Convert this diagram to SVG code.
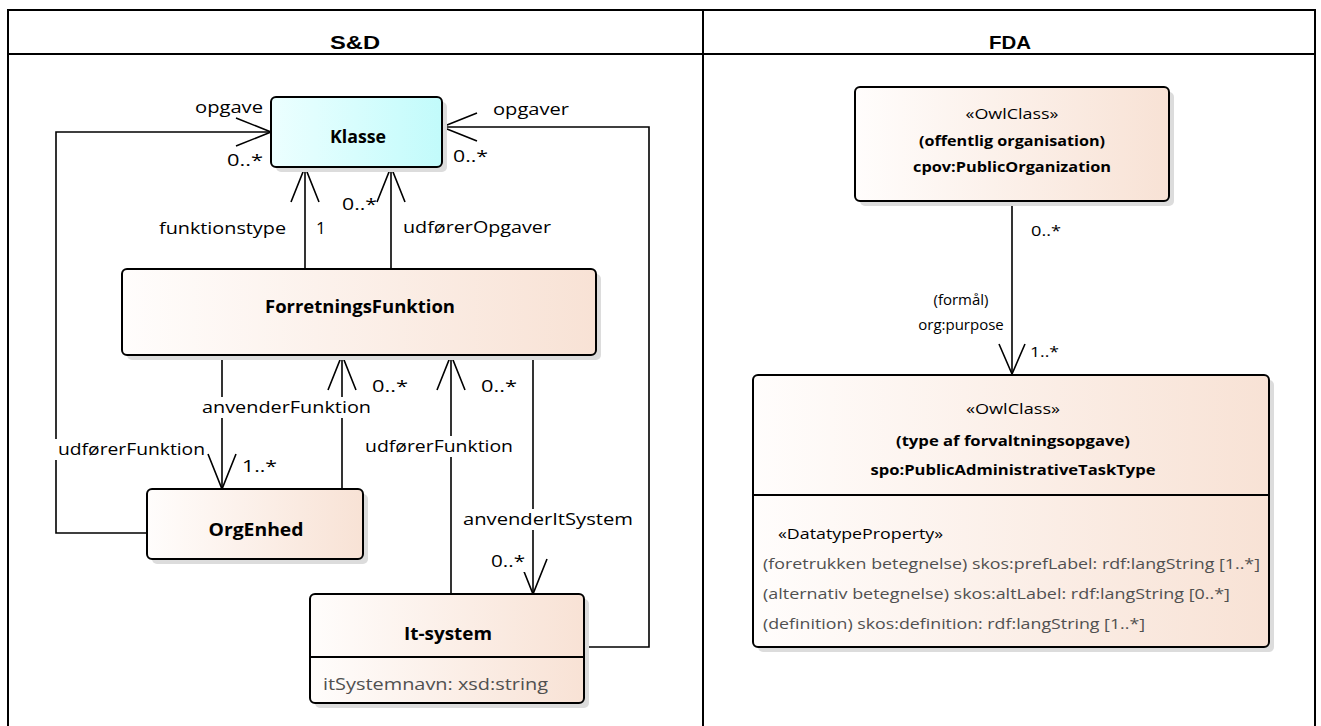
<svg xmlns="http://www.w3.org/2000/svg" width="1321" height="726" viewBox="0 0 1321 726">
<style>
.lbl{font-family:"Open Sans","Liberation Sans",sans-serif;font-size:17px;fill:#000}
.nm{font-family:"Open Sans","Liberation Sans",sans-serif;font-size:17px;font-weight:bold;fill:#000}
.attr{font-family:"Open Sans","Liberation Sans",sans-serif;font-size:17px;fill:#505050}
.fl{font-family:"Open Sans","Liberation Sans",sans-serif;font-size:15px;fill:#000}
.fnm{font-family:"Open Sans","Liberation Sans",sans-serif;font-size:15px;font-weight:bold;fill:#000}
.fattr{font-family:"Open Sans","Liberation Sans",sans-serif;font-size:15px;fill:#505050}
.hdr{font-family:"Liberation Sans",Arial,sans-serif;font-size:19px;font-weight:bold;fill:#000}
.box{stroke:#000;stroke-width:2;fill:url(#peach)}
.cyan{stroke:#000;stroke-width:2;fill:url(#cyan)}
.sh{fill:#dcdcdc}
.ln{stroke:#000;stroke-width:1.6;fill:none}
.bg{fill:#fff}
.tbl{stroke:#000;stroke-width:2;fill:none}
</style>
<defs>
<linearGradient id="peach" x1="0" y1="0" x2="1" y2="0">
<stop offset="0" stop-color="#fffdfc"/>
<stop offset="1" stop-color="#f8e2d5"/>
</linearGradient>
<linearGradient id="cyan" x1="0" y1="0" x2="1" y2="0">
<stop offset="0" stop-color="#ecffff"/>
<stop offset="1" stop-color="#c2fbfb"/>
</linearGradient>
<marker id="oa" markerUnits="userSpaceOnUse" markerWidth="44" markerHeight="36" viewBox="-40 -18 44 36" refX="0" refY="0" orient="auto">
<path d="M-35,-14 L0,0 L-35,14" fill="none" stroke="#000" stroke-width="1.6"/>
</marker>
<marker id="oa2" markerUnits="userSpaceOnUse" markerWidth="44" markerHeight="36" viewBox="-40 -18 44 36" refX="0" refY="0" orient="auto">
<path d="M-30,-13 L0,0 L-30,13" fill="none" stroke="#000" stroke-width="1.6"/>
</marker>
</defs>
<rect width="1321" height="726" fill="#fff"/>

<g id="table">
<path class="tbl" d="M8,730 V10 H1315 V730 M8,54 H1315 M703,10 V730"/>
<text class="hdr" x="355" y="49" text-anchor="middle" textLength="50" lengthAdjust="spacingAndGlyphs">S&amp;D</text>
<text class="hdr" x="1010" y="49" text-anchor="middle" textLength="42" lengthAdjust="spacingAndGlyphs">FDA</text>
</g>

<g id="connectors">
<path class="ln" d="M305,269 V167" marker-end="url(#oa)"/>
<path class="ln" d="M391,269 V167" marker-end="url(#oa)"/>
<path class="ln" d="M147,533 H56 V132 H271" marker-end="url(#oa)"/>
<path class="ln" d="M584,647 H649 V127 H442" marker-end="url(#oa)"/>
<path class="ln" d="M222,355 V489" marker-end="url(#oa)"/>
<path class="ln" d="M342,489 V355" marker-end="url(#oa)"/>
<path class="ln" d="M451,594 V355" marker-end="url(#oa)"/>
<path class="ln" d="M533,355 V594" marker-end="url(#oa)"/>
<path class="ln" d="M1012,202 V374" marker-end="url(#oa2)"/>

<text class="lbl" x="195" y="113" textLength="68" lengthAdjust="spacingAndGlyphs">opgave</text>
<text class="lbl" x="227" y="166" textLength="36" lengthAdjust="spacingAndGlyphs">0..*</text>
<text class="lbl" x="159" y="234" textLength="127" lengthAdjust="spacingAndGlyphs">funktionstype</text>
<text class="lbl" x="316" y="234">1</text>
<text class="lbl" x="342" y="210" textLength="35" lengthAdjust="spacingAndGlyphs">0..*</text>
<text class="lbl" x="403" y="233" textLength="148" lengthAdjust="spacingAndGlyphs">udførerOpgaver</text>
<text class="lbl" x="493" y="115" textLength="76" lengthAdjust="spacingAndGlyphs">opgaver</text>
<text class="lbl" x="453" y="162" textLength="35" lengthAdjust="spacingAndGlyphs">0..*</text>

<rect class="bg" x="200" y="397" width="173" height="21"/>
<text class="lbl" x="202" y="413" textLength="169" lengthAdjust="spacingAndGlyphs">anvenderFunktion</text>
<text class="lbl" x="372" y="392" textLength="36" lengthAdjust="spacingAndGlyphs">0..*</text>
<rect class="bg" x="54" y="439" width="153" height="21"/>
<text class="lbl" x="58" y="455" textLength="147" lengthAdjust="spacingAndGlyphs">udførerFunktion</text>
<text class="lbl" x="242" y="472" textLength="35" lengthAdjust="spacingAndGlyphs">1..*</text>
<rect class="bg" x="363" y="436" width="152" height="21"/>
<text class="lbl" x="365" y="452" textLength="148" lengthAdjust="spacingAndGlyphs">udførerFunktion</text>
<text class="lbl" x="481" y="392" textLength="36" lengthAdjust="spacingAndGlyphs">0..*</text>
<rect class="bg" x="461" y="509" width="174" height="21"/>
<text class="lbl" x="463" y="525" textLength="170" lengthAdjust="spacingAndGlyphs">anvenderItSystem</text>
<rect class="bg" x="489" y="553" width="37" height="19"/>
<text class="lbl" x="491" y="567" textLength="34" lengthAdjust="spacingAndGlyphs">0..*</text>

<text class="fl" x="1031" y="236" textLength="30" lengthAdjust="spacingAndGlyphs">0..*</text>
<text class="fl" x="961" y="305" text-anchor="middle">(formål)</text>
<text class="fl" x="961" y="330" text-anchor="middle">org:purpose</text>
<text class="fl" x="1030" y="357" textLength="29" lengthAdjust="spacingAndGlyphs">1..*</text>
</g>

<g id="Klasse">
<rect class="sh" x="276" y="102" width="171" height="70" rx="5"/>
<rect class="cyan" x="271" y="97" width="171" height="70" rx="5"/>
<text class="nm" x="358" y="143" text-anchor="middle" textLength="56" lengthAdjust="spacingAndGlyphs">Klasse</text>
</g>

<g id="ForretningsFunktion">
<rect class="sh" x="127" y="274" width="474" height="86" rx="5"/>
<rect class="box" x="122" y="269" width="474" height="86" rx="5"/>
<text class="nm" x="360" y="313" text-anchor="middle" textLength="190" lengthAdjust="spacingAndGlyphs">ForretningsFunktion</text>
</g>

<g id="OrgEnhed">
<rect class="sh" x="152" y="494" width="216" height="70" rx="5"/>
<rect class="box" x="147" y="489" width="216" height="70" rx="5"/>
<text class="nm" x="256" y="536" text-anchor="middle" textLength="95" lengthAdjust="spacingAndGlyphs">OrgEnhed</text>
</g>

<g id="It-system">
<rect class="sh" x="315" y="599" width="274" height="109" rx="5"/>
<rect class="box" x="310" y="594" width="274" height="109" rx="5"/>
<line x1="310" y1="657" x2="584" y2="657" stroke="#000" stroke-width="2"/>
<text class="nm" x="448" y="640" text-anchor="middle" textLength="88" lengthAdjust="spacingAndGlyphs">It-system</text>
<text class="attr" x="323" y="690" textLength="225" lengthAdjust="spacingAndGlyphs">itSystemnavn: xsd:string</text>
</g>

<g id="PublicOrganization">
<rect class="sh" x="860" y="92" width="314" height="114" rx="5"/>
<rect class="box" x="855" y="87" width="314" height="114" rx="5"/>
<text class="fl" x="1012" y="119" text-anchor="middle" textLength="93" lengthAdjust="spacingAndGlyphs">«OwlClass»</text>
<text class="fnm" x="1012" y="146" text-anchor="middle" textLength="186" lengthAdjust="spacingAndGlyphs">(offentlig organisation)</text>
<text class="fnm" x="1012" y="172" text-anchor="middle" textLength="198" lengthAdjust="spacingAndGlyphs">cpov:PublicOrganization</text>
</g>

<g id="PublicAdministrativeTaskType">
<rect class="sh" x="758" y="380" width="516" height="272" rx="5"/>
<rect class="box" x="753" y="375" width="516" height="272" rx="5"/>
<line x1="753" y1="495" x2="1269" y2="495" stroke="#000" stroke-width="2"/>
<text class="fl" x="1013" y="414" text-anchor="middle" textLength="94" lengthAdjust="spacingAndGlyphs">«OwlClass»</text>
<text class="fnm" x="1013" y="446" text-anchor="middle" textLength="234" lengthAdjust="spacingAndGlyphs">(type af forvaltningsopgave)</text>
<text class="fnm" x="1013" y="475" text-anchor="middle" textLength="285" lengthAdjust="spacingAndGlyphs">spo:PublicAdministrativeTaskType</text>
<text class="fl" x="778" y="539" textLength="165" lengthAdjust="spacingAndGlyphs">«DatatypeProperty»</text>
<text class="fattr" x="763" y="569" textLength="497" lengthAdjust="spacingAndGlyphs">(foretrukken betegnelse) skos:prefLabel: rdf:langString [1..*]</text>
<text class="fattr" x="763" y="599" textLength="467" lengthAdjust="spacingAndGlyphs">(alternativ betegnelse) skos:altLabel: rdf:langString [0..*]</text>
<text class="fattr" x="763" y="629" textLength="382" lengthAdjust="spacingAndGlyphs">(definition) skos:definition: rdf:langString [1..*]</text>
</g>
</svg>
